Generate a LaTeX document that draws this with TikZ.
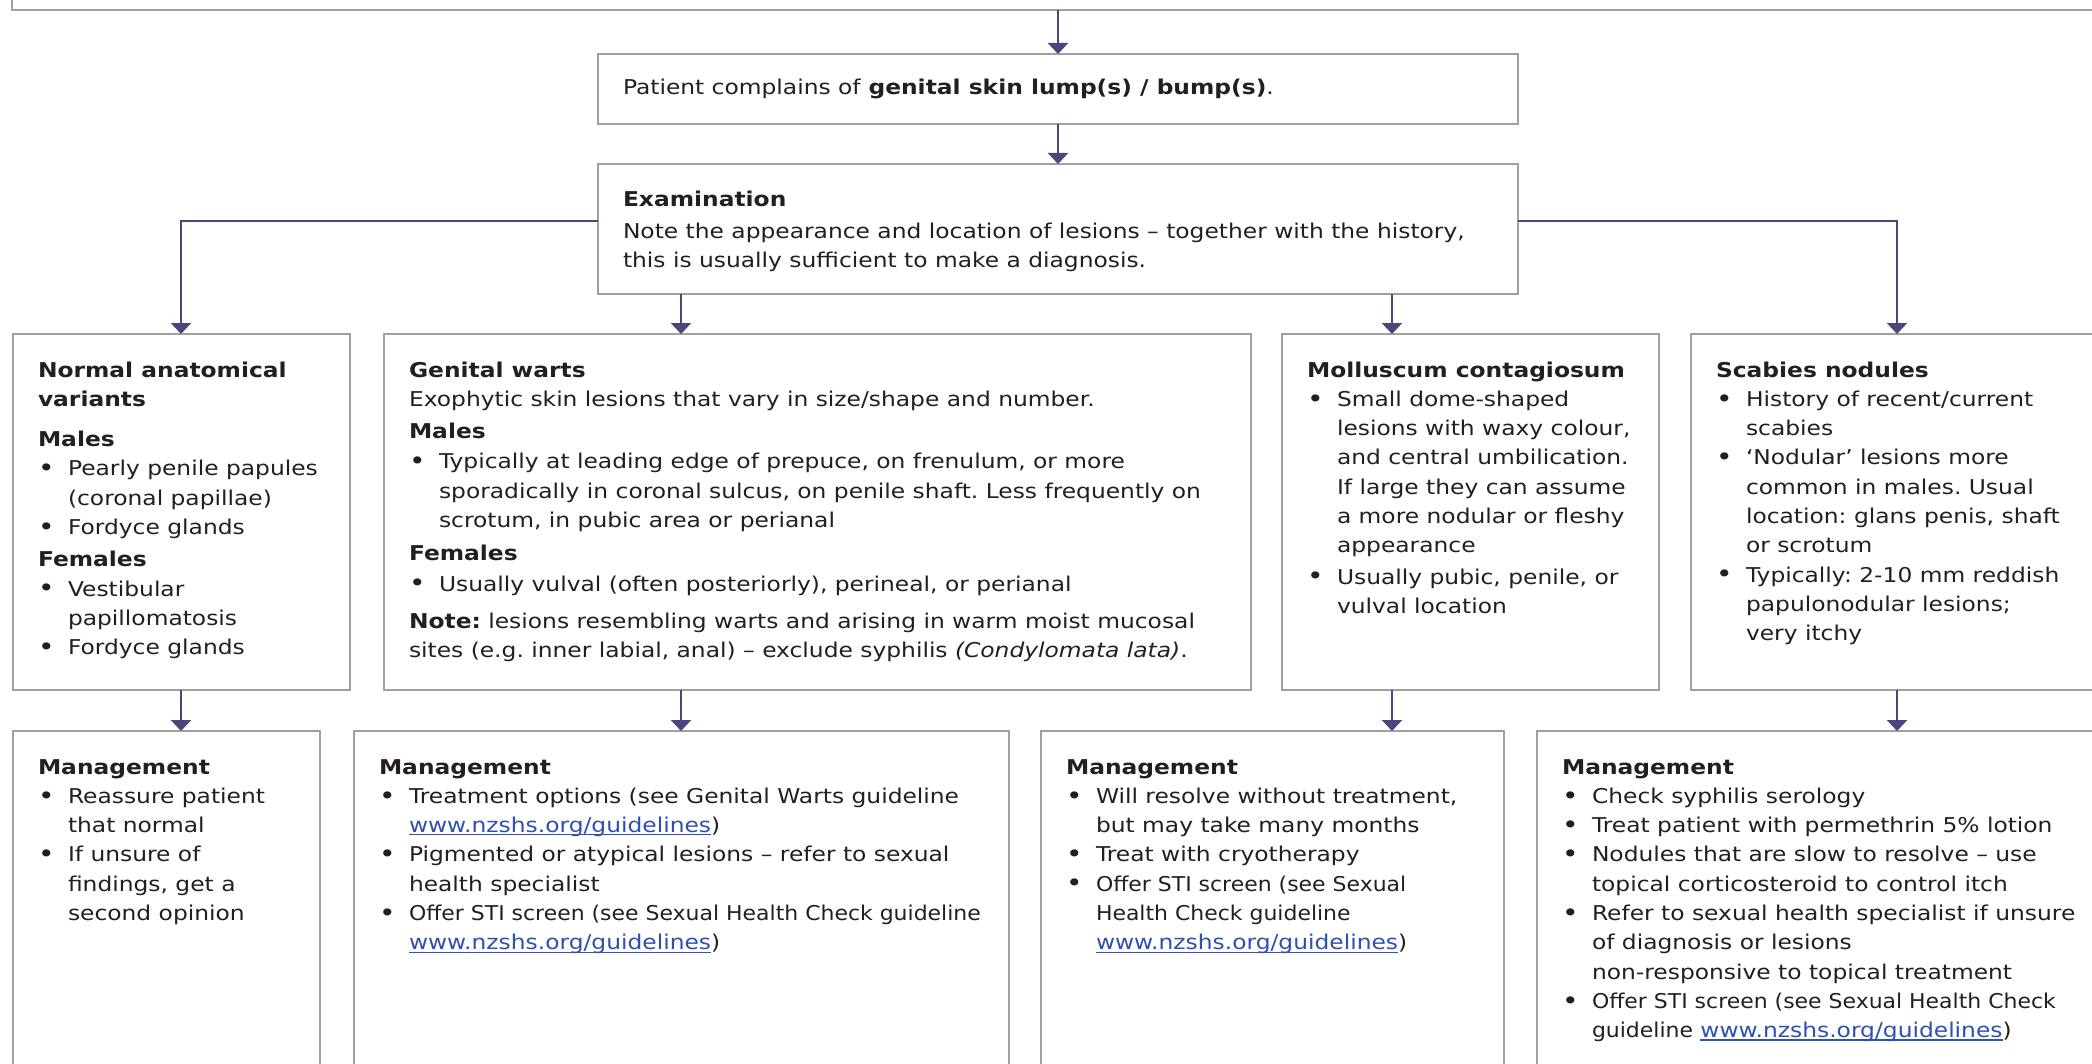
\documentclass[tikz,border=0pt]{standalone}
\usepackage{fontspec}
\usepackage{graphicx}
\setmainfont{DejaVu Sans}[FakeStretch=1.145]
\usetikzlibrary{arrows.meta}
\definecolor{bord}{RGB}{160,160,162}
\definecolor{arrc}{RGB}{72,72,124}
\definecolor{lnk}{RGB}{48,80,176}
\definecolor{txt}{RGB}{35,31,32}
\newcommand{\blt}{\raisebox{-0.35pt}{\scalebox{1.2}{\textbullet}}}
\newcommand{\itm}[1]{\par\hangindent=15pt\hangafter=1\makebox[15pt][l]{\blt}#1}
\newcommand{\lk}[1]{\textcolor{lnk}{\setbox0\hbox{#1}\rlap{\rule[-1.4pt]{\wd0}{0.55pt}}\box0}}
\newcommand{\cnd}[1]{\scalebox{0.94}[1]{#1}}
\newcommand{\bx}[6]{\node[box] (#1) at (#2,#3) {\parbox[t][#5][t]{\dimexpr #4-25pt\relax}{\rule{0pt}{21.5pt}#6}};}
\begin{document}
\begin{tikzpicture}[x=0.5pt,y=-0.5pt,
  box/.style={draw=bord, line width=1.1pt, anchor=north west, inner xsep=12.5pt, inner ysep=0pt, outer sep=0pt, text=txt, font=\fontsize{10.2pt}{14.65pt}\selectfont\frenchspacing},
  arr/.style={draw=arrc, line width=1.25pt, -{Triangle[width=10pt,length=5.5pt]}}]
\useasboundingbox (0,0) rectangle (2092,1064);
\clip (0,0) rectangle (2092,1064);
\fill[white] (0,0) rectangle (2092,1064);

\node[box, minimum width=1069pt, minimum height=25pt, anchor=south west] (top) at (12,10) {};
\node[box] (pat) at (598,54) {\parbox[c][35pt][c]{\dimexpr460pt-25pt\relax}{Patient complains of \textbf{genital skin lump(s) / bump(s)}.}};
\bx{exam}{598}{164}{460pt}{65pt}{\textbf{Examination}\par\vspace{1pt}Note the appearance and location of lesions -- together with the history,\\ this is usually sufficient to make a diagnosis.}

% row 2
\bx{nav}{13}{334}{168.5pt}{178pt}{\textbf{Normal anatomical}\\\textbf{variants}\par\vspace{5.5pt}
\textbf{Males}
\itm{Pearly penile papules\\(coronal papillae)}
\itm{Fordyce glands}\par\vspace{1.5pt}
\textbf{Females}
\itm{Vestibular\\papillomatosis}
\itm{Fordyce glands}}

\bx{gw}{384}{334}{433.5pt}{178pt}{\textbf{Genital warts}\\
Exophytic skin lesions that vary in size/shape and number.\par\vspace{1.5pt}
\textbf{Males}\par\vspace{0.5pt}
\itm{Typically at leading edge of prepuce, on frenulum, or more\\sporadically in coronal sulcus, on penile shaft. Less frequently on\\scrotum, in pubic area or perianal}\par\vspace{2pt}
\textbf{Females}\par\vspace{0.5pt}
\itm{Usually vulval (often posteriorly), perineal, or perianal}\par\vspace{4pt}
\textbf{Note:} lesions resembling warts and arising in warm moist mucosal\\
sites (e.g. inner labial, anal) -- exclude syphilis \textit{(Condylomata lata)}.}

\bx{mc}{1282}{334}{188.5pt}{178pt}{\textbf{Molluscum contagiosum}
\itm{Small dome-shaped\\lesions with waxy colour,\\and central umbilication.\\If large they can assume\\a more nodular or fleshy\\appearance}\par\vspace{1pt}
\itm{Usually pubic, penile, or\\vulval location}}

\bx{sn}{1691}{334}{219.5pt}{178pt}{\textbf{Scabies nodules}
\itm{History of recent/current\\scabies}
\itm{`Nodular' lesions more\\common in males. Usual\\location: glans penis, shaft\\or scrotum}
\itm{Typically: 2-10 mm reddish\\papulonodular lesions;\\very itchy}}

% row 3
\bx{mnav}{13}{731}{153.5pt}{184.5pt}{\textbf{Management}
\itm{Reassure patient\\that normal}
\itm{If unsure of\\findings, get a\\second opinion}}

\bx{mgw}{354}{731}{327.5pt}{184.5pt}{\textbf{Management}
\itm{Treatment options (see Genital Warts guideline\\\lk{www.nzshs.org/guidelines})}
\itm{Pigmented or atypical lesions -- refer to sexual\\health specialist}
\itm{\cnd{Offer STI screen (see Sexual Health Check guideline}\\\lk{www.nzshs.org/guidelines})}}

\bx{mmc}{1041}{731}{231.5pt}{184.5pt}{\textbf{Management}
\itm{Will resolve without treatment,\\but may take many months}
\itm{Treat with cryotherapy}
\itm{\cnd{Offer STI screen (see Sexual}\\\cnd{Health Check guideline}\\\lk{www.nzshs.org/guidelines})}}

\bx{msn}{1537}{731}{296.5pt}{184.5pt}{\textbf{Management}
\itm{Check syphilis serology}
\itm{Treat patient with permethrin 5\% lotion}
\itm{Nodules that are slow to resolve -- use\\topical corticosteroid to control itch}
\itm{Refer to sexual health specialist if unsure\\of diagnosis or lesions\\non-responsive to topical treatment}
\itm{\cnd{Offer STI screen (see Sexual Health Check}\\\cnd{guideline} \lk{www.nzshs.org/guidelines})}}

% connectors
\coordinate (jL) at (181,221);
\coordinate (jR) at (1897,221);
\coordinate (cB) at (681,0);
\coordinate (cC) at (1392,0);
\draw[arr] (top.south -| pat.north) -- (pat.north);
\draw[arr] (pat.south) -- (exam.north);
\draw[arr] (exam.west |- jL) -- (jL) -- (nav.north -| jL);
\draw[arr] (exam.east |- jR) -- (jR) -- (sn.north -| jR);
\draw[arr] (exam.south -| cB) -- (gw.north -| cB);
\draw[arr] (exam.south -| cC) -- (mc.north -| cC);
\draw[arr] (nav.south -| jL) -- (mnav.north -| jL);
\draw[arr] (gw.south -| cB) -- (mgw.north -| cB);
\draw[arr] (mc.south -| cC) -- (mmc.north -| cC);
\draw[arr] (sn.south -| jR) -- (msn.north -| jR);
\end{tikzpicture}
\end{document}
